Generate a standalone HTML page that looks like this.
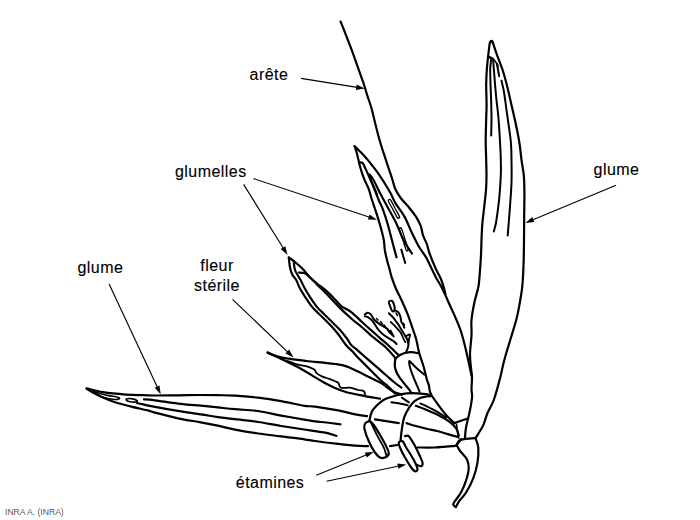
<!DOCTYPE html><html><head><meta charset="utf-8"><style>html,body{margin:0;padding:0;background:#fff;width:700px;height:520px;overflow:hidden}svg{display:block}</style></head><body>
<svg width="700" height="520" viewBox="0 0 700 520">
<rect width="700" height="520" fill="#fff"/>
<g fill="none" stroke="#000" stroke-linecap="round" stroke-linejoin="round">
<path d="M340.6 21.6 C341.7 24.2 344.8 32.0 346.9 37.5 C349.0 43.0 351.4 49.1 353.3 54.4 C355.2 59.7 356.8 64.3 358.5 69.2 C360.2 74.1 362.4 79.8 363.8 84.0 C365.2 88.2 365.8 90.7 367.0 94.6 C368.2 98.5 370.0 103.1 371.2 107.3 C372.4 111.5 373.2 115.2 374.4 120.0 C375.6 124.8 377.1 130.9 378.5 136.2 C379.9 141.4 381.3 145.9 383.1 151.5 C384.9 157.1 387.6 165.2 389.2 170.0 C390.8 174.8 391.5 176.8 392.5 180.0 C393.5 183.2 394.0 186.1 395.4 189.2 C396.8 192.3 398.8 195.4 401.1 198.5 C403.4 201.6 406.7 204.6 409.2 207.7 C411.7 210.8 414.2 213.8 416.1 216.9 C418.0 220.0 419.7 223.2 420.8 226.2 C421.9 229.2 421.9 232.0 422.9 235.0 C423.9 238.0 425.8 241.3 426.9 244.2 C427.9 247.1 428.2 249.4 429.2 252.3 C430.2 255.2 431.5 258.6 432.7 261.5 C433.9 264.4 434.8 266.7 436.1 269.6 C437.5 272.5 439.6 275.9 440.8 278.8 C442.1 281.7 442.8 284.4 443.6 286.9 C444.4 289.4 445.1 292.6 445.4 293.8" stroke-width="2.20"/>
<path d="M354.6 146.2 C354.9 147.2 355.9 149.7 356.5 152.0 C357.1 154.3 357.9 157.4 358.5 160.0 C359.1 162.6 359.4 164.5 360.4 167.7 C361.3 170.9 362.8 175.6 364.2 179.2 C365.6 182.8 367.5 185.7 368.8 189.2 C370.1 192.7 370.6 195.8 372.0 200.0 C373.4 204.2 375.5 210.2 376.9 214.6 C378.3 219.0 379.2 222.0 380.4 226.2 C381.5 230.4 383.1 236.0 383.8 240.0 C384.5 244.0 384.3 246.7 384.8 250.0 C385.3 253.3 386.3 257.0 387.0 260.0 C387.7 263.0 388.4 265.1 389.2 268.0 C390.0 270.9 390.7 274.3 391.8 277.7 C392.9 281.1 394.2 284.6 395.9 288.5 C397.6 292.4 399.8 296.4 401.8 300.8 C403.8 305.2 406.0 310.0 407.8 314.6 C409.6 319.2 411.2 324.4 412.6 328.5 C414.0 332.6 415.1 335.2 416.2 339.2 C417.3 343.2 417.8 347.8 419.0 352.3 C420.2 356.8 422.2 361.6 423.5 366.2 C424.8 370.8 426.1 376.9 427.0 380.0 C427.9 383.1 428.3 383.0 428.8 385.0 C429.3 387.0 429.4 390.0 430.0 391.9 C430.6 393.8 430.9 394.4 432.3 396.5 C433.7 398.6 435.8 401.5 438.1 404.6 C440.4 407.7 443.4 411.9 446.1 415.0 C448.8 418.1 452.9 421.8 454.2 423.1" stroke-width="2.20"/>
<path d="M454.2 423.1 C455.4 422.7 458.8 421.6 461.1 420.8 C463.4 420.0 466.9 418.9 468.1 418.5" stroke-width="2.20"/>
<path d="M354.6 146.2 C355.2 146.8 356.8 148.3 358.0 149.5 C359.2 150.7 360.6 152.0 362.0 153.5 C363.4 155.0 365.0 156.7 366.5 158.5 C368.0 160.3 369.4 161.9 371.2 164.2 C373.0 166.5 375.3 169.2 377.5 172.3 C379.7 175.4 382.2 179.4 384.5 183.0 C386.8 186.6 389.2 190.7 391.0 194.0 C392.8 197.3 393.1 199.3 395.4 203.1 C397.7 206.9 401.8 211.9 404.6 216.9 C407.4 221.9 409.6 228.1 412.0 233.0 C414.4 237.9 416.5 242.5 418.8 246.5 C421.1 250.5 423.7 253.2 425.8 256.9 C427.9 260.5 429.8 264.9 431.5 268.4 C433.2 271.9 434.6 274.8 436.1 277.7 C437.7 280.6 439.4 283.2 440.8 285.8 C442.2 288.4 443.0 290.0 444.4 293.0 C445.8 296.0 447.8 300.6 449.2 303.8 C450.6 307.0 451.8 309.3 453.0 312.0 C454.2 314.7 455.2 317.0 456.5 320.0 C457.8 323.0 459.1 325.9 460.5 330.0 C461.9 334.1 463.3 339.4 464.6 344.6 C465.9 349.9 467.4 356.4 468.5 361.5 C469.6 366.6 471.0 373.1 471.5 375.4" stroke-width="2.20"/>
<path d="M359.6 162.3 C360.1 162.4 361.8 162.2 362.7 163.1 C363.6 164.0 363.9 165.3 365.0 167.7 C366.1 170.1 368.1 174.2 369.6 177.7 C371.1 181.2 372.7 184.8 374.2 188.5 C375.7 192.2 377.3 196.6 378.7 200.0 C380.1 203.4 381.3 205.0 382.7 208.8 C384.1 212.6 385.8 217.5 387.3 222.7 C388.8 227.9 390.4 234.2 391.9 240.0 C393.4 245.8 395.7 254.4 396.5 257.3" stroke-width="2.20"/>
<path d="M369.6 174.6 C370.2 175.5 371.7 176.8 373.5 180.0 C375.3 183.2 377.9 189.0 380.4 193.8 C382.9 198.6 385.8 203.8 388.5 208.8 C391.2 213.8 394.0 218.6 396.5 223.8 C399.0 229.0 400.9 235.1 403.5 240.0 C406.1 244.9 410.5 251.2 411.9 253.5" stroke-width="2.20"/>
<path d="M369.6 174.6 C369.8 175.5 370.3 177.9 371.0 180.0 C371.7 182.1 373.0 184.7 374.0 187.0 C375.0 189.3 376.5 192.8 377.0 194.0" stroke-width="1.80"/>
<path d="M388.5 201.4 C389.2 203.0 391.4 206.7 392.9 209.4 C394.3 212.1 396.2 216.0 397.2 217.5 C398.2 218.9 398.5 218.1 398.9 218.0 C399.2 217.8 400.0 217.9 399.4 216.3 C398.7 214.7 396.5 211.0 395.0 208.3 C393.6 205.6 391.7 201.7 390.7 200.2 C389.7 198.8 389.4 199.6 389.0 199.7 C388.7 199.9 387.9 199.8 388.5 201.4Z" stroke-width="1.30"/>
<path d="M399.6 229.3 C400.0 231.3 401.7 236.2 402.8 239.6 C403.9 243.1 405.3 248.1 406.1 249.9 C406.8 251.8 407.1 250.8 407.4 250.6 C407.8 250.5 408.6 251.2 408.1 249.3 C407.7 247.3 406.0 242.4 404.9 239.0 C403.8 235.5 402.4 230.5 401.6 228.7 C400.9 226.8 400.6 227.8 400.3 228.0 C399.9 228.1 399.1 227.4 399.6 229.3Z" stroke-width="1.30"/>
<path d="M401.3 249.6 L405.2 263.0" stroke-width="2.00"/>
<path d="M491.5 41.5 C491.2 41.6 490.5 40.4 490.0 42.3 C489.5 44.2 489.0 48.7 488.5 53.1 C488.0 57.5 487.3 63.4 486.9 68.5 C486.5 73.6 486.3 78.7 486.2 83.8 C486.1 88.9 486.4 94.8 486.5 99.2 C486.6 103.6 486.6 106.8 486.5 110.0 C486.4 113.2 486.3 113.2 486.2 118.5 C486.1 123.8 485.7 134.6 485.7 141.5 C485.7 148.4 486.1 154.4 486.2 160.0 C486.3 165.6 486.5 170.0 486.5 175.0 C486.5 180.0 486.4 184.7 486.0 190.0 C485.6 195.3 484.8 201.3 484.2 207.0 C483.6 212.7 482.8 218.5 482.3 224.0 C481.9 229.5 481.7 234.8 481.5 240.0 C481.3 245.2 481.2 250.0 481.0 255.0 C480.8 260.0 480.4 264.8 480.0 270.0 C479.6 275.2 479.4 280.9 478.5 286.2 C477.6 291.4 475.8 295.9 474.6 301.5 C473.4 307.1 472.0 314.4 471.5 320.0 C471.0 325.6 471.8 329.8 471.5 335.4 C471.2 341.0 470.1 348.7 470.0 353.8 C469.9 358.9 470.5 362.4 470.8 366.2 C471.1 370.0 471.9 373.1 472.0 376.9 C472.1 380.7 471.5 385.9 471.5 389.2 C471.5 392.5 472.3 393.4 472.1 396.5 C471.9 399.6 471.1 404.4 470.4 408.1 C469.7 411.8 468.9 415.1 468.1 418.5 C467.3 421.9 466.3 425.6 465.8 428.8 C465.3 432.0 465.1 436.1 465.0 437.5" stroke-width="2.20"/>
<path d="M491.5 41.5 C491.7 41.6 491.7 39.8 492.6 42.0 C493.5 44.2 495.1 49.7 496.9 54.6 C498.6 59.5 501.3 65.8 503.1 71.5 C504.9 77.2 506.5 83.6 507.7 88.5 C508.9 93.4 509.4 95.8 510.5 100.8 C511.6 105.8 513.1 111.7 514.6 118.5 C516.1 125.3 518.1 134.6 519.2 141.5 C520.4 148.4 520.7 154.3 521.5 160.0 C522.3 165.7 523.3 170.3 523.8 175.4 C524.3 180.5 524.3 184.4 524.4 190.8 C524.5 197.2 524.3 205.6 524.2 213.8 C524.1 222.0 524.1 233.1 524.0 240.0 C523.9 246.9 523.9 249.9 523.8 255.0 C523.7 260.1 523.5 265.6 523.3 270.8 C523.0 276.0 522.8 281.1 522.3 286.2 C521.8 291.3 521.0 295.9 520.0 301.5 C519.0 307.1 518.7 310.7 516.2 320.0 C513.7 329.3 507.7 347.8 505.0 357.5 C502.3 367.2 501.9 371.4 500.0 378.5 C498.1 385.6 495.9 394.2 493.8 400.0 C491.7 405.8 489.2 408.8 487.5 413.0 C485.8 417.2 484.9 421.6 483.4 425.0 C481.9 428.4 479.6 431.5 478.3 433.7 C477.0 435.9 476.1 437.3 475.7 438.0" stroke-width="2.20"/>
<path d="M489.5 57.0 C489.8 57.5 490.9 57.8 491.0 60.0 C491.1 62.2 490.2 64.8 490.2 70.0 C490.2 75.2 490.6 86.0 490.8 91.5 C491.0 97.0 491.1 98.6 491.2 103.1 C491.3 107.6 491.5 113.1 491.5 118.5 C491.5 123.9 491.2 132.6 491.2 135.4" stroke-width="2.00"/>
<path d="M493.1 59.2 C493.2 60.8 493.4 63.6 493.8 68.5 C494.2 73.4 494.9 83.2 495.4 88.5 C495.8 93.8 496.0 95.0 496.5 100.0 C497.0 105.0 497.9 111.6 498.5 118.5 C499.1 125.4 499.6 134.6 500.0 141.5 C500.4 148.4 500.7 154.3 500.8 160.0 C500.9 165.7 501.1 169.0 500.8 175.4 C500.5 181.8 500.0 190.8 499.2 198.5 C498.4 206.2 497.1 216.0 496.2 221.5 C495.3 227.0 494.2 229.8 493.8 231.5" stroke-width="2.00"/>
<path d="M496.9 63.8 L499.2 76.2" stroke-width="2.00"/>
<path d="M501.5 80.8 C501.9 82.7 503.2 87.1 504.0 92.0 C504.8 96.9 505.9 105.6 506.5 110.0 C507.1 114.4 507.0 113.2 507.7 118.5 C508.4 123.8 510.2 134.6 510.8 141.5 C511.4 148.4 511.4 153.1 511.5 160.0 C511.6 166.9 511.8 175.4 511.5 183.1 C511.2 190.8 510.6 197.5 510.0 206.2 C509.4 214.9 508.1 230.5 507.7 235.4" stroke-width="2.00"/>
<path d="M489.5 57.0 C490.1 57.2 491.8 57.4 493.0 58.5 C494.2 59.6 496.1 62.5 496.9 63.8 C497.7 65.0 497.8 65.6 498.0 66.0" stroke-width="1.60"/>
<path d="M288.8 257.5 C289.0 259.2 289.4 264.6 290.0 267.5 C290.6 270.4 291.5 272.9 292.5 275.0 C293.5 277.1 295.1 277.9 296.2 280.0 C297.4 282.1 298.1 284.8 299.6 287.7 C301.1 290.6 303.3 294.1 305.4 297.3 C307.5 300.5 309.9 304.2 312.1 306.9 C314.3 309.6 316.4 311.3 318.8 313.7 C321.2 316.1 324.6 319.4 326.5 321.3 C328.4 323.2 328.1 322.8 330.0 324.8 C331.9 326.8 335.0 330.1 337.7 333.5 C340.4 336.9 343.6 342.0 346.0 345.0 C348.4 348.0 350.3 349.2 352.3 351.3 C354.3 353.4 356.0 355.5 358.1 357.7 C360.2 359.9 362.5 362.1 365.0 364.6 C367.5 367.1 370.4 370.0 373.1 372.7 C375.8 375.4 378.9 378.7 381.2 380.8 C383.5 382.9 384.7 383.3 387.0 385.4 C389.3 387.5 393.7 392.1 395.0 393.5" stroke-width="2.20"/>
<path d="M293.8 261.2 C294.0 262.7 293.9 266.9 295.0 270.0 C296.1 273.1 299.0 277.1 300.6 280.0 C302.2 282.9 302.8 284.8 304.4 287.7 C306.0 290.6 308.1 294.1 310.2 297.3 C312.3 300.5 314.6 304.2 316.9 306.9 C319.1 309.6 321.3 311.3 323.7 313.7 C326.1 316.1 328.6 318.6 331.3 321.3 C334.0 324.0 336.9 326.6 339.6 329.6 C342.3 332.6 345.4 336.6 347.3 339.2 C349.2 341.8 349.4 343.1 351.2 345.0 C353.0 346.9 355.4 348.5 358.1 350.8 C360.8 353.1 364.2 356.2 367.3 358.9 C370.4 361.6 373.5 364.2 376.6 366.9 C379.7 369.6 382.9 372.5 385.8 375.0 C388.7 377.5 391.3 379.9 393.9 382.0 C396.5 384.1 400.1 386.8 401.4 387.7" stroke-width="2.20"/>
<path d="M288.8 257.5 C289.8 258.2 292.7 260.1 295.0 262.0 C297.3 263.9 300.0 266.2 302.5 268.8 C305.0 271.3 307.6 275.0 310.0 277.5 C312.4 280.0 314.7 281.6 317.0 283.5 C319.3 285.4 321.5 286.9 323.7 288.7 C325.9 290.5 328.0 292.4 330.0 294.3 C332.0 296.2 333.6 298.0 335.5 300.0 C337.4 302.0 338.9 304.3 341.5 306.3 C344.1 308.3 347.8 309.5 351.2 312.1 C354.6 314.7 358.3 318.6 361.7 321.7 C365.1 324.8 368.2 327.7 371.3 330.4 C374.4 333.1 377.2 335.7 380.0 338.1 C382.8 340.5 385.6 342.8 388.0 345.0 C390.4 347.2 392.9 349.6 394.6 351.2 C396.3 352.8 397.5 354.0 398.1 354.6" stroke-width="2.20"/>
<path d="M298.8 272.5 C299.6 272.6 302.5 272.5 304.0 273.0 C305.5 273.5 306.3 274.1 308.0 275.5 C309.7 276.9 312.2 279.4 314.0 281.2 C315.8 283.0 317.3 284.8 319.0 286.5 C320.7 288.2 322.2 289.3 324.0 291.2 C325.8 293.1 327.2 294.7 330.0 297.6 C332.8 300.5 336.9 305.0 340.6 308.6 C344.3 312.2 348.6 316.1 352.1 319.2 C355.6 322.3 358.6 324.4 361.7 327.0 C364.8 329.6 368.1 332.8 370.4 334.8 C372.6 336.8 372.7 336.8 375.2 338.8 C377.7 340.8 382.2 344.0 385.4 347.0 C388.6 350.0 393.1 355.3 394.6 357.0" stroke-width="2.20"/>
<path d="M395.4 358.5 C396.2 357.9 398.3 356.0 400.0 355.0 C401.7 354.0 403.9 353.2 405.8 352.7 C407.7 352.2 409.4 352.0 411.5 352.1 C413.6 352.2 417.3 353.1 418.5 353.3" stroke-width="2.20"/>
<path d="M395.4 358.5 C395.3 359.8 394.4 363.8 394.8 366.5 C395.2 369.2 396.2 371.9 397.7 374.6 C399.1 377.3 401.6 380.2 403.5 382.7 C405.4 385.2 407.9 387.9 409.2 389.6 C410.5 391.3 411.1 392.5 411.5 393.1" stroke-width="2.20"/>
<path d="M424.2 374.6 C423.1 373.6 419.4 370.7 417.3 368.8 C415.2 366.9 412.9 364.4 411.5 363.1 C410.1 361.9 409.4 360.4 409.2 361.3 C409.0 362.2 409.6 366.0 410.4 368.8 C411.2 371.6 412.6 375.2 413.8 378.1 C415.0 381.0 416.3 383.9 417.3 386.2 C418.3 388.5 419.2 390.9 419.6 391.9" stroke-width="2.00"/>
<path d="M405.8 352.7 C406.2 351.7 407.6 349.0 408.1 346.9 C408.6 344.8 408.6 341.1 408.7 340.0" stroke-width="2.00"/>
<path d="M388.9 301.8 C389.2 301.0 391.0 300.5 391.8 300.8 C392.6 301.1 393.2 302.4 393.7 303.7 C394.2 305.0 394.7 307.2 394.7 308.5 C394.7 309.8 394.2 311.1 393.7 311.4 C393.2 311.7 392.4 311.4 391.8 310.4 C391.2 309.4 390.4 307.0 389.9 305.6 C389.4 304.2 388.6 302.6 388.9 301.8Z" stroke-width="2.00"/>
<path d="M388.9 313.3 C389.5 313.9 391.7 315.9 392.8 317.2 C393.9 318.5 394.8 319.7 395.7 321.0 C396.6 322.3 397.6 323.4 398.5 324.8 C399.4 326.2 400.4 328.1 401.4 329.7 C402.4 331.3 403.3 332.9 404.3 334.5 C405.3 336.1 406.6 337.9 407.2 339.3 C407.8 340.7 408.0 342.5 408.2 343.1" stroke-width="2.00"/>
<path d="M394.7 310.4 C395.3 310.7 397.5 311.2 398.5 312.3 C399.5 313.4 400.0 315.6 400.5 317.2 C401.0 318.8 400.9 320.7 401.4 322.0 C401.9 323.3 402.8 323.9 403.3 324.8 C403.8 325.8 404.1 327.2 404.3 327.7" stroke-width="2.00"/>
<path d="M390.8 322.0 C391.6 322.8 394.1 325.1 395.7 326.8 C397.3 328.6 399.2 330.6 400.5 332.5 C401.8 334.4 402.5 336.7 403.3 338.3 C404.1 339.9 405.0 341.6 405.3 342.2" stroke-width="1.80"/>
<path d="M405.8 336.4 C406.5 336.1 409.7 333.7 410.1 334.5 C410.5 335.3 408.5 340.1 408.2 341.2" stroke-width="1.80"/>
<path d="M364.9 314.3 C365.4 314.1 366.8 312.8 367.8 312.8 C368.8 312.8 369.9 313.6 370.7 314.3 C371.5 315.0 372.0 316.2 372.6 317.2 C373.2 318.1 373.4 318.9 374.5 320.0 C375.6 321.1 377.7 322.8 379.3 323.9 C380.9 325.0 382.8 326.0 384.1 326.8 C385.4 327.6 385.9 327.6 387.0 328.7 C388.1 329.8 389.7 332.2 390.8 333.5 C391.9 334.8 393.2 335.9 393.7 336.4" stroke-width="2.00"/>
<path d="M364.9 316.2 C365.4 316.4 366.7 316.6 367.8 317.2 C368.9 317.8 370.5 318.9 371.6 320.0 C372.7 321.1 373.4 322.3 374.5 323.9 C375.6 325.5 376.9 327.9 378.3 329.7 C379.8 331.5 381.4 333.1 383.2 334.5 C385.0 335.9 387.1 337.2 388.9 338.3 C390.6 339.4 392.4 340.2 393.7 341.2 C395.0 342.2 396.1 343.6 396.6 344.1" stroke-width="2.00"/>
<path d="M376.5 318.5 L378.0 320.0" stroke-width="1.50"/>
<path d="M380.5 321.5 L382.5 324.0" stroke-width="1.50"/>
<path d="M384.0 325.0 L386.0 328.0" stroke-width="1.60"/>
<path d="M387.5 329.0 L389.5 332.5" stroke-width="1.80"/>
<path d="M390.5 330.5 L393.0 335.0" stroke-width="1.80"/>
<path d="M396.0 313.0 L397.5 315.5" stroke-width="1.50"/>
<path d="M403.0 323.0 L404.5 325.0" stroke-width="1.50"/>
<path d="M267.5 352.3 C269.1 353.0 273.7 355.3 277.3 356.4 C280.9 357.5 284.1 357.9 288.9 358.7 C293.7 359.5 300.4 360.3 306.2 361.0 C312.0 361.7 318.7 362.2 323.5 362.7 C328.3 363.2 331.2 363.4 335.0 364.0 C338.8 364.6 342.6 365.1 346.5 366.4 C350.4 367.7 354.2 369.8 358.1 371.6 C362.0 373.4 365.8 375.4 369.6 377.3 C373.5 379.2 377.4 380.8 381.2 383.1 C385.0 385.4 389.2 389.3 392.7 391.2 C396.2 393.1 400.4 394.1 402.0 394.7" stroke-width="2.20"/>
<path d="M267.5 352.8 C269.1 353.5 273.7 355.4 277.3 357.0 C280.9 358.6 285.0 360.8 288.9 362.7 C292.8 364.6 296.5 366.4 300.4 368.5 C304.2 370.6 308.1 373.1 312.0 375.4 C315.9 377.7 319.7 380.2 323.5 382.3 C327.3 384.4 331.2 386.4 335.0 388.1 C338.8 389.8 341.7 391.0 346.5 392.3 C351.3 393.6 358.3 394.7 363.9 395.8 C369.5 396.9 377.3 398.2 380.0 398.7" stroke-width="2.20"/>
<path d="M287.7 361.0 C289.2 361.6 293.9 363.5 297.0 364.4 C300.1 365.3 303.3 365.3 306.2 366.2 C309.1 367.1 312.6 368.5 314.3 369.6 C316.0 370.8 315.2 371.9 316.6 373.1 C318.0 374.3 320.3 375.6 322.4 376.6 C324.5 377.6 327.2 378.1 329.3 378.9 C331.4 379.7 333.5 380.5 335.0 381.2 C336.5 381.9 337.5 382.0 338.5 383.1 C339.5 384.2 338.9 386.9 340.8 387.7 C342.7 388.5 347.1 387.3 350.0 387.7 C352.9 388.1 355.8 389.4 358.1 390.0 C360.4 390.6 362.8 390.4 363.9 391.2 C365.0 392.0 364.8 394.1 365.0 394.7" stroke-width="1.80"/>
<path d="M86.6 388.3 C89.3 388.9 96.4 391.1 102.9 392.2 C109.4 393.2 119.0 394.1 125.7 394.6 C132.4 395.1 138.0 395.1 142.9 395.2 C147.8 395.3 149.2 395.5 155.0 395.5 C160.8 395.5 170.3 395.5 177.9 395.4 C185.5 395.3 194.0 395.0 200.7 395.0 C207.4 395.0 212.2 395.1 217.9 395.2 C223.6 395.3 228.3 395.2 235.0 395.6 C241.7 396.0 250.4 396.8 258.1 397.7 C265.8 398.6 273.5 399.8 281.2 401.2 C288.9 402.6 298.7 404.9 304.3 405.8 C309.9 406.7 309.4 405.8 315.0 406.6 C320.6 407.4 331.4 409.1 338.1 410.4 C344.8 411.7 350.6 413.4 355.4 414.4 C360.2 415.4 365.1 415.9 367.0 416.2" stroke-width="2.20"/>
<path d="M375.0 419.4 L398.8 423.1" stroke-width="2.20"/>
<path d="M406.5 423.1 C408.1 423.6 412.5 425.1 415.8 426.0 C419.1 426.9 422.8 427.9 426.5 428.8 C430.2 429.7 434.2 430.2 438.1 431.2 C442.0 432.2 446.3 433.7 449.6 434.6 C452.9 435.6 456.4 436.5 457.7 436.9" stroke-width="2.20"/>
<path d="M86.6 388.8 C87.8 389.5 91.0 391.5 93.7 392.9 C96.4 394.3 99.5 395.9 102.9 397.4 C106.3 398.9 109.5 400.5 114.3 402.0 C119.0 403.5 125.7 405.2 131.4 406.6 C137.1 408.0 144.7 409.6 148.6 410.6 C152.5 411.6 150.1 411.3 155.0 412.6 C159.9 413.9 170.3 416.7 177.9 418.3 C185.5 419.9 194.0 421.1 200.7 422.3 C207.4 423.5 212.2 424.5 217.9 425.7 C223.6 426.9 228.3 428.3 235.0 429.6 C241.7 430.9 250.4 432.4 258.1 433.5 C265.8 434.6 273.5 435.4 281.2 436.4 C288.9 437.4 298.7 438.5 304.3 439.3 C309.9 440.1 309.4 440.2 315.0 441.0 C320.6 441.8 331.4 443.1 338.1 443.9 C344.8 444.7 350.0 445.2 355.0 445.6 C360.0 446.0 365.8 446.1 368.0 446.2" stroke-width="2.20"/>
<path d="M390.0 446.2 L397.5 445.0" stroke-width="2.20"/>
<path d="M417.5 447.5 C420.4 447.5 430.4 447.6 435.0 447.5 C439.6 447.4 441.9 446.9 445.4 446.6 C448.9 446.3 454.1 445.9 455.8 445.8" stroke-width="2.20"/>
<path d="M144.0 399.4 C145.8 399.5 149.3 399.6 155.0 400.3 C160.7 401.0 170.3 402.7 177.9 403.6 C185.5 404.5 194.0 405.1 200.7 405.7 C207.4 406.3 212.2 406.8 217.9 407.4 C223.6 408.0 228.3 408.6 235.0 409.2 C241.7 409.8 250.4 409.9 258.1 411.0 C265.8 412.1 273.5 414.2 281.2 415.6 C288.9 417.0 298.7 418.6 304.3 419.6 C309.9 420.6 311.3 420.9 315.0 421.4 C318.7 421.9 322.3 422.0 326.5 422.5 C330.7 423.0 338.1 424.0 340.4 424.3" stroke-width="2.20"/>
<path d="M137.0 403.0 C140.0 403.6 148.2 405.6 155.0 406.9 C161.8 408.2 170.3 409.7 177.9 410.9 C185.5 412.1 194.0 413.3 200.7 414.3 C207.4 415.3 212.2 416.3 217.9 417.1 C223.6 417.9 228.3 418.3 235.0 419.1 C241.7 419.9 250.4 420.9 258.1 422.0 C265.8 423.1 273.5 424.8 281.2 426.0 C288.9 427.2 298.7 428.6 304.3 429.5 C309.9 430.4 311.3 430.6 315.0 431.2 C318.7 431.8 322.9 432.1 326.5 432.9 C330.1 433.7 334.8 435.3 336.4 435.8" stroke-width="2.20"/>
<path d="M92.6 391.3 C92.6 390.9 97.3 392.8 100.0 393.5 C102.7 394.2 105.9 395.1 108.6 395.6 C111.3 396.2 114.2 396.4 116.0 396.8 C117.8 397.2 119.5 397.8 119.5 398.2 C119.5 398.6 117.9 399.4 116.0 399.5 C114.1 399.6 110.7 399.1 108.0 398.5 C105.3 397.9 102.6 397.4 100.0 396.2 C97.4 395.0 92.6 391.8 92.6 391.3Z" stroke-width="1.60"/>
<path d="M126.5 399.0 C127.2 398.6 129.3 398.4 131.0 398.6 C132.7 398.8 135.5 399.7 136.5 400.2 C137.5 400.7 137.8 401.5 137.0 401.8 C136.2 402.1 133.7 402.2 132.0 402.0 C130.3 401.8 127.9 401.3 127.0 400.8 C126.1 400.3 125.8 399.4 126.5 399.0Z" stroke-width="1.60"/>
<path d="M370.0 421.2 C369.9 421.0 369.3 421.2 369.6 419.6 C369.9 418.0 370.8 413.8 371.9 411.5 C373.0 409.2 374.6 407.7 376.5 405.8 C378.4 403.9 380.8 401.6 383.5 400.0 C386.2 398.4 389.6 397.5 392.7 396.5 C395.8 395.5 398.8 394.8 401.9 394.2 C405.0 393.6 408.0 393.2 411.1 393.1 C414.2 393.0 417.6 393.5 420.4 393.7 C423.2 393.9 426.1 393.7 427.7 394.2 C429.3 394.7 429.6 396.1 430.0 396.5" stroke-width="2.20"/>
<path d="M400.6 440.0 C400.8 438.1 401.3 432.6 401.9 428.8 C402.5 425.0 403.0 420.8 404.2 417.3 C405.4 413.9 407.1 410.8 408.8 408.1 C410.5 405.4 412.6 402.9 414.6 401.2 C416.6 399.5 418.4 398.6 420.8 397.7 C423.2 396.8 427.5 396.3 428.8 396.0" stroke-width="2.20"/>
<path d="M391.5 402.3 C392.9 402.5 396.9 403.0 399.6 403.5 C402.3 404.0 406.4 404.9 407.7 405.2" stroke-width="2.00"/>
<path d="M401.9 397.7 L408.8 402.3" stroke-width="2.00"/>
<path d="M415.8 405.8 C417.3 406.4 421.3 407.7 425.0 409.2 C428.7 410.7 434.0 412.9 438.1 415.0 C442.2 417.1 446.5 419.6 449.6 421.9 C452.7 424.2 455.0 426.5 456.5 428.8 C458.0 431.1 458.4 434.6 458.8 435.8" stroke-width="2.20"/>
<path d="M420.4 403.5 C422.4 404.4 428.0 406.9 432.3 409.2 C436.6 411.5 443.8 415.9 446.1 417.3" stroke-width="2.00"/>
<path d="M456.5 424.2 C456.7 425.8 457.3 431.2 457.7 433.5 C458.1 435.8 458.6 437.3 458.8 438.1" stroke-width="1.60"/>
<path d="M365.0 423.8 C364.7 424.8 363.8 425.8 364.4 428.8 C365.0 431.7 367.0 437.3 368.8 441.2 C370.5 445.2 373.1 449.8 375.0 452.5 C376.9 455.2 378.3 456.7 380.0 457.5 C381.7 458.3 383.5 458.1 385.0 457.5 C386.5 456.9 388.5 455.6 388.8 453.8 C389.0 451.9 387.7 449.4 386.2 446.2 C384.8 443.1 382.1 438.5 380.0 435.0 C377.9 431.5 375.4 427.3 373.8 425.0 C372.1 422.7 371.2 421.7 370.0 421.2 C368.8 420.8 367.1 422.1 366.2 422.5 C365.4 422.9 365.3 422.7 365.0 423.8Z" stroke-width="2.20"/>
<path d="M370.6 421.9 C371.8 424.3 375.3 432.0 377.5 436.2 C379.7 440.5 382.3 444.4 383.8 447.5 C385.2 450.6 385.8 453.8 386.2 455.0" stroke-width="1.80"/>
<path d="M398.8 442.5 C399.2 441.5 401.2 440.4 402.5 441.2 C403.8 442.1 404.4 444.4 406.2 447.5 C408.1 450.6 411.9 456.5 413.8 460.0 C415.6 463.5 417.3 466.9 417.5 468.8 C417.7 470.6 416.0 471.5 415.0 471.2 C414.0 471.0 412.9 469.8 411.2 467.5 C409.6 465.2 406.9 460.8 405.0 457.5 C403.1 454.2 401.0 450.0 400.0 447.5 C399.0 445.0 398.3 443.5 398.8 442.5Z" stroke-width="2.20"/>
<path d="M405.0 436.2 C405.6 436.2 407.3 435.0 408.8 436.2 C410.2 437.5 412.1 440.8 413.8 443.8 C415.4 446.7 417.3 450.6 418.8 453.8 C420.2 456.9 422.1 460.4 422.5 462.5 C422.9 464.6 422.1 465.8 421.2 466.2 C420.4 466.7 418.1 465.2 417.5 465.0" stroke-width="2.20"/>
<path d="M456.6 444.9 C457.2 445.9 458.4 448.6 460.1 451.0 C461.8 453.4 465.6 456.7 467.0 459.6 C468.4 462.5 468.8 464.8 468.7 468.3 C468.6 471.8 467.4 476.4 466.1 480.4 C464.8 484.4 462.9 489.1 461.0 492.5 C459.1 495.9 456.2 499.1 454.9 501.1 C453.6 503.1 453.2 503.7 453.2 504.6 C453.2 505.5 454.7 506.2 455.0 506.5" stroke-width="2.20"/>
<path d="M475.7 438.8 C476.1 440.2 478.0 443.4 478.3 447.5 C478.6 451.6 478.3 457.9 477.4 463.1 C476.5 468.3 475.0 473.7 473.1 478.6 C471.2 483.5 468.4 488.8 466.1 492.5 C463.8 496.2 460.9 498.7 459.2 501.1 C457.5 503.6 456.4 506.2 455.8 507.2" stroke-width="2.20"/>
<path d="M456.6 444.9 C457.0 444.2 457.8 441.6 459.2 440.6 C460.6 439.6 462.6 439.2 465.3 438.8 C468.1 438.4 474.0 438.1 475.7 438.0" stroke-width="2.20"/>
<path d="M456.5 445.0 L461.1 439.2" stroke-width="2.20"/>
</g>
<g stroke="#000" stroke-linecap="butt">
<line x1="301.0" y1="78.4" x2="357.3" y2="87.4" stroke-width="1.15"/><polygon points="364.8,88.6 355.9,89.9 356.7,84.6" fill="#000" stroke="none"/>
<line x1="253.6" y1="178.6" x2="369.7" y2="217.3" stroke-width="1.15"/><polygon points="376.9,219.7 367.9,219.5 369.6,214.4" fill="#000" stroke="none"/>
<line x1="243.6" y1="184.4" x2="283.5" y2="248.5" stroke-width="1.15"/><polygon points="287.5,255.0 280.7,249.1 285.3,246.3" fill="#000" stroke="none"/>
<line x1="616.0" y1="185.3" x2="532.4" y2="220.0" stroke-width="1.15"/><polygon points="525.4,222.9 532.3,217.1 534.4,222.1" fill="#000" stroke="none"/>
<line x1="109.1" y1="284.1" x2="157.5" y2="387.4" stroke-width="1.15"/><polygon points="160.7,394.3 154.6,387.7 159.5,385.4" fill="#000" stroke="none"/>
<line x1="232.5" y1="299.4" x2="288.0" y2="352.3" stroke-width="1.15"/><polygon points="293.5,357.5 285.4,353.5 289.1,349.6" fill="#000" stroke="none"/>
<line x1="316.2" y1="475.2" x2="366.7" y2="454.8" stroke-width="1.15"/><polygon points="373.8,451.9 366.8,457.6 364.8,452.6" fill="#000" stroke="none"/>
<line x1="326.6" y1="481.3" x2="398.8" y2="466.0" stroke-width="1.15"/><polygon points="406.2,464.4 398.4,468.8 397.3,463.5" fill="#000" stroke="none"/>
</g>
<g font-family="Liberation Sans, sans-serif" font-size="16" fill="#000" stroke="#000" stroke-width="0.12" letter-spacing="0.45">
<text x="249.6" y="80.2" text-anchor="start">arête</text>
<text x="175.0" y="176.6" text-anchor="start">glumelles</text>
<text x="593.6" y="174.8" text-anchor="start">glume</text>
<text x="77.5" y="272.8" text-anchor="start">glume</text>
<text x="217.0" y="271.0" text-anchor="middle">fleur</text>
<text x="217.0" y="291.0" text-anchor="middle">stérile</text>
<text x="235.8" y="487.6" text-anchor="start">étamines</text>
</g>
<text x="5" y="515" font-family="Liberation Sans, sans-serif" font-size="8.6" fill="#5a5a5a">INRA A. (INRA)</text>
</svg></body></html>
